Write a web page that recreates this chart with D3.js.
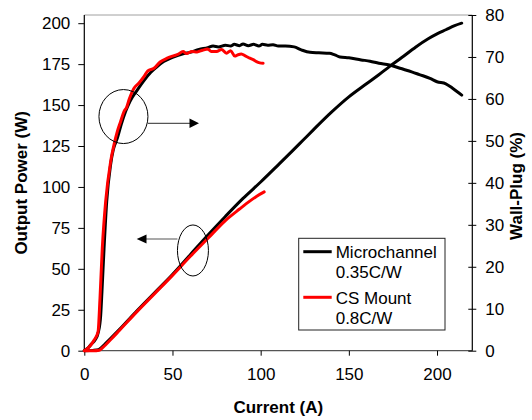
<!DOCTYPE html>
<html><head><meta charset="utf-8">
<script src="https://cdn.jsdelivr.net/npm/d3@7"></script>
<style>
html,body{margin:0;padding:0;background:#fff;}
svg text{font-family:"Liberation Sans",Arial,sans-serif;}
</style></head>
<body>
<svg id="chart" width="532" height="420"></svg>
<script>
// ---- data ----
const xTicks = [0, 50, 100, 150, 200];
const leftTicks = [0, 25, 50, 75, 100, 125, 150, 175, 200];
const rightTicks = [0, 10, 20, 30, 40, 50, 60, 70, 80];
const seriesNames = ["Microchannel", "CS Mount"];
const seriesSub = ["0.35C/W", "0.8C/W"];
const seriesColors = ["#000000", "#ff0000"];

// Output power (W) vs current (A)
const microPowerI = [0, 5, 8, 10, 12, 15, 20, 30, 40, 50, 60, 70, 80, 90, 100, 110, 118, 124, 130, 140, 150, 160, 167, 173, 180, 188, 195, 200, 205, 210, 214];
const microPowerW = [0, 0.2, 0.6, 2.2, 4.3, 7.5, 13, 24.5, 35.5, 46.5, 58.5, 70.5, 82, 93, 103, 113.5, 122, 128.5, 135, 145.5, 155, 163, 168.5, 173.5, 179, 185.5, 190.5, 193.5, 196, 198.5, 200];
const csPowerI = [0, 5, 8.5, 10, 12, 15, 20, 30, 40, 50, 60, 70, 80, 88, 94, 98, 102];
const csPowerW = [0, 0, 0.3, 1.5, 3.5, 6.8, 12.5, 24, 35, 46, 57.5, 68.5, 79.5, 86.5, 91.5, 94.5, 97];

// Wall-plug efficiency (%) vs current (A)
const microEffI = [0, 2, 4, 6, 8, 9.3, 10, 11.2, 12.7, 14.9, 16.5, 18.7, 21, 23.4, 26, 30, 33.5, 37.6, 41, 45, 50, 56.5, 60, 65, 70, 73, 76, 80, 83, 85, 88, 90, 93, 96, 99, 101, 104, 107, 110, 114, 119, 123, 128, 133, 139, 142, 145, 150, 157, 162, 167, 173, 179, 186, 190, 196, 200, 205, 209, 214];
const microEffP = [0, 0.6, 1.6, 2.5, 4.5, 8.5, 14, 24.4, 35.5, 44.3, 48, 50.6, 54, 57, 59.5, 62.1, 64.2, 66.3, 67.6, 68.9, 69.9, 70.8, 71.1, 71.8, 72.2, 72.6, 72.4, 72.8, 72.6, 73.0, 72.7, 73.1, 72.7, 73.0, 72.6, 73.0, 72.8, 72.9, 72.6, 72.6, 72.4, 71.7, 71.1, 71.0, 70.9, 70.5, 70.0, 69.8, 69.3, 69.0, 68.5, 68.1, 67.3, 66.4, 65.8, 64.9, 64.1, 63.6, 62.5, 60.9];
const csEffI = [0, 3, 5.5, 7.8, 8.9, 10.2, 12.1, 14.9, 16.8, 18.7, 20.5, 22.5, 24, 25.5, 28.1, 31, 33.8, 36, 39.5, 43, 47, 50, 53, 56, 58, 61, 64, 67, 70, 72, 75, 77.8, 80.6, 83, 85.3, 87, 89, 91.5, 93.8, 96, 97.6, 99.5, 101.4];
const csEffP = [0, 1, 2.5, 4.5, 12.5, 24.4, 35.5, 45, 49, 52.2, 54.5, 57, 58, 60, 62.5, 63.8, 65.3, 66.7, 67.3, 68.8, 69.7, 70.2, 70.6, 71.3, 70.8, 71.3, 71.2, 71.6, 71.9, 71.3, 71.3, 71.8, 70.9, 71.5, 70.2, 70.5, 70.7, 70.2, 69.7, 69.3, 68.9, 68.6, 68.5];

// ---- layout ----
const svg = d3.select("#chart");
const L = 84.3, R = 472.3, T = 15, B = 350.7;
const FS = "17px";

const x = d3.scaleLinear().domain([0, 220]).range([L, R]);
const yL = d3.scaleLinear().domain([0, 205]).range([B, T]);
const yR = d3.scaleLinear().domain([0, 80]).range([B, T]);

// top border
svg.append("line").attr("x1", L).attr("x2", R).attr("y1", T).attr("y2", T)
  .attr("stroke", "#a0a0a0").attr("stroke-width", 1);

// x axis
const gx = svg.append("g").attr("transform", `translate(0,${B})`)
  .call(d3.axisBottom(x).tickValues(xTicks).tickSize(5).tickPadding(12).tickFormat(d3.format("d")));
// left axis
const gl = svg.append("g").attr("transform", `translate(${L},0)`)
  .call(d3.axisLeft(yL).tickValues(leftTicks).tickSize(6).tickPadding(8).tickFormat(d3.format("d")));
// right axis
const gr = svg.append("g").attr("transform", `translate(${R},0)`)
  .call(d3.axisRight(yR).tickValues(rightTicks).tickSize(4).tickPadding(9).tickFormat(d3.format("d")));
gr.selectAll(".tick line").attr("x1", -4);

[gx, gl, gr].forEach(g => {
  g.selectAll("path.domain").attr("stroke", "#000").attr("stroke-width", 1.2);
  g.selectAll(".tick line").attr("stroke", "#000");
  g.selectAll("text").attr("font-size", FS).attr("fill", "#000")
    .attr("font-family", "'Liberation Sans',Arial,sans-serif");
});
gx.select("path.domain").attr("d", `M${L},0H${R}`).attr("stroke", "#555");
gl.select("path.domain").attr("d", `M0,${T}V${B}`);
gr.select("path.domain").attr("d", `M0,${T}V${B}`);

// axis titles
svg.append("text").attr("x", (L + R) / 2).attr("y", 413)
  .attr("text-anchor", "middle").attr("font-weight", "bold").attr("font-size", FS)
  .text("Current (A)");
svg.append("text").attr("transform", `translate(27,${(T + B) / 2}) rotate(-90)`)
  .attr("text-anchor", "middle").attr("font-weight", "bold").attr("font-size", FS)
  .text("Output Power (W)");
svg.append("text").attr("transform", `translate(522,186) rotate(-90)`)
  .attr("text-anchor", "middle").attr("font-weight", "bold").attr("font-size", FS)
  .text("Wall-Plug (%)");

// data lines
const zip = (a, b) => a.map((v, i) => [v, b[i]]);
const lineL = d3.line().x(d => x(d[0])).y(d => yL(d[1])).curve(d3.curveMonotoneX);
const lineR = d3.line().x(d => x(d[0])).y(d => yR(d[1])).curve(d3.curveMonotoneX);

const lines = [
  {d: zip(microPowerI, microPowerW), gen: lineL, c: seriesColors[0]},
  {d: zip(microEffI, microEffP), gen: lineR, c: seriesColors[0]},
  {d: zip(csPowerI, csPowerW), gen: lineL, c: seriesColors[1]},
  {d: zip(csEffI, csEffP), gen: lineR, c: seriesColors[1]},
];
lines.forEach(l => {
  svg.append("path").attr("d", l.gen(l.d)).attr("fill", "none")
    .attr("stroke", l.c).attr("stroke-width", 3).attr("stroke-linejoin", "round").attr("stroke-linecap", "round");
});

// annotations: circle + arrow to right axis, ellipse + arrow to left axis
svg.append("ellipse").attr("cx", x(22.2)).attr("cy", yR(55.8)).attr("rx", 24.5).attr("ry", 27)
  .attr("fill", "none").attr("stroke", "#000").attr("stroke-width", 1);
svg.append("line").attr("x1", x(22.2) + 24.5).attr("x2", 191).attr("y1", 123.3).attr("y2", 123.3)
  .attr("stroke", "#555").attr("stroke-width", 1.2);
svg.append("path").attr("d", "M199,123.3L189.5,118.6L189.5,128Z").attr("fill", "#000");

svg.append("ellipse").attr("cx", x(61.6)).attr("cy", yL(61.2)).attr("rx", 15.5).attr("ry", 25.5)
  .attr("fill", "none").attr("stroke", "#000").attr("stroke-width", 1);
svg.append("line").attr("x1", x(61.6) - 15.5).attr("x2", 145).attr("y1", 239).attr("y2", 239)
  .attr("stroke", "#555").attr("stroke-width", 1.2);
svg.append("path").attr("d", "M136.7,239L146.5,234.5L146.5,243.5Z").attr("fill", "#000");

// legend
const lg = svg.append("g");
lg.append("rect").attr("x", 298.7).attr("y", 238.3).attr("width", 146.3).attr("height", 91.7)
  .attr("fill", "#fff").attr("stroke", "#222").attr("stroke-width", 1);
const legY = [251.7, 297.3];
seriesNames.forEach((n, i) => {
  lg.append("line").attr("x1", 303.3).attr("x2", 331.7).attr("y1", legY[i]).attr("y2", legY[i])
    .attr("stroke", seriesColors[i]).attr("stroke-width", 3);
  lg.append("text").attr("x", 335.7).attr("y", legY[i] + 6.5).attr("font-size", FS).text(n);
  lg.append("text").attr("x", 335.7).attr("y", legY[i] + 26.5).attr("font-size", FS).text(seriesSub[i]);
});
</script>
</body></html>
